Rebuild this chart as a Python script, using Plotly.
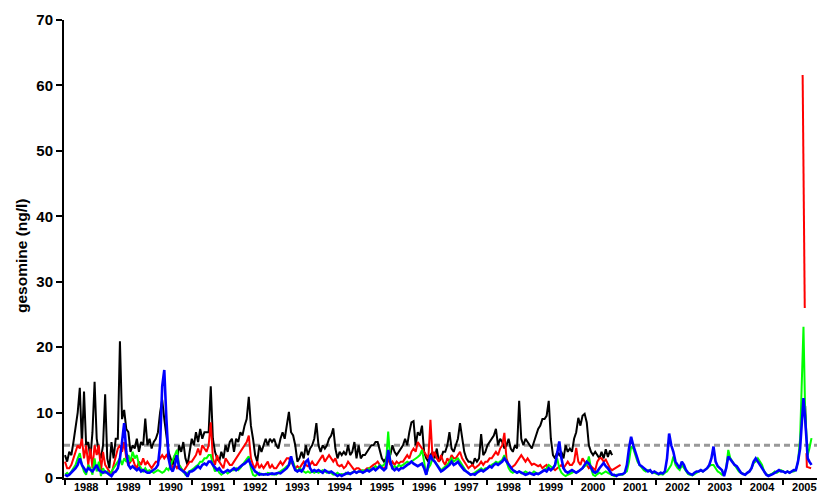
import numpy as np
import plotly.graph_objects as go

# ---------------- data ----------------
years = list(range(1988, 2006))
year_labels = [str(y) for y in years]
grid_start = 1988.0
grid_step = 0.05  # sampling interval (years)

black = [
    3.5, 2.5, 4, 3.5, 5.5, 8, 10, 13.8, 5, 13.2, 5, 5.5, 3, 7, 14.7, 6, 4, 3, 5, 12.8,      # 1988
    3, 1.5, 5.5, 3, 6, 6, 20.9, 9, 10.4, 7.5, 7, 4, 5, 4.5, 6, 4, 5.5, 5, 9.1, 5,          # 1989
    6, 4.5, 5.5, 6, 7, 10, 12, 9, 6, 4, 3, 2, 3.5, 2.5, 5, 4, 5.5, 3, 2, 4,                # 1990
    6, 5, 7, 5.5, 7.5, 6, 7, 7, 7, 14, 6, 4, 3, 2.5, 4, 3, 5, 4, 5.5, 6,                   # 1991
    4, 6, 5.5, 7, 6.5, 8, 9, 12.4, 8, 6, 3.5, 2.5, 5, 4, 5, 6, 5, 6, 5.5, 6,               # 1992
    5, 4.5, 6, 7, 6, 8, 10.1, 7, 6.5, 5, 2.5, 3, 4, 3, 5, 3.5, 4.5, 5, 6, 8.4,             # 1993
    5, 4, 5, 4.5, 5, 6, 6.5, 7.6, 4.5, 3, 4, 3.5, 4, 3.5, 5, 3.5, 4, 5.5, 3, 5,            # 1994
    3, 3.5, 3.5, 4, 4.5, 5, 5, 5.5, 5.5, 4, 3, 2.5, 3, 4, 3.5, 5, 4, 3.5, 4, 4.5,          # 1995
    5, 6, 5, 7, 8.5, 8.7, 5, 7, 6.5, 8, 4, 3, 2.5, 3.5, 4, 3, 4.5, 2.5, 3, 4,              # 1996
    4, 5, 7, 4.5, 4, 5, 6, 8.4, 6, 4, 3, 2.5, 2.5, 2, 3, 2.5, 3, 6.7, 3.5, 4,              # 1997
    5, 5.5, 6, 6.5, 7.5, 5, 6, 5.5, 4.5, 5, 6, 4.5, 4, 5, 4.5, 11.8, 6, 5, 6, 5.5,         # 1998
    5, 4.5, 5.5, 6.5, 7.5, 8, 9, 9, 9.5, 11.8, 6, 3.5, 3, 4, 3.5, 4, 3, 5, 4, 4.5,         # 1999
    4, 6, 7, 9.2, 8, 9.5, 9.8, 8.5, 5, 4, 3.5, 4, 3.5, 3, 4, 3, 4.4, 3.2, 4.2, 3.5,        # 2000
]
black_2005_t = [2005.52, 2005.54]
black_2005_v = [11, 7]

red = [
    2.5, 1.5, 1.5, 2, 3, 4, 5, 4.5, 6, 3, 5, 2, 4.5, 1.5, 5, 3.5, 5, 1, 4, 2,              # 1988
    1.5, 1, 0.5, 2, 3.5, 4.5, 5, 4, 5.5, 3, 2, 2.5, 3, 2, 1.5, 2.5, 2, 3, 2, 2.5,          # 1989
    2, 1.5, 2, 2.5, 2.5, 3, 3.5, 3, 3.5, 3, 2.5, 1.5, 2, 1.5, 2, 1.5, 1, 1.5, 2, 2.5,      # 1990
    2.5, 3, 3.5, 4.5, 3.5, 5, 4.5, 4, 5, 8.5, 3, 2, 3.5, 2.5, 2, 1.5, 3, 2.5, 2, 2,        # 1991
    2.5, 3, 3.5, 4, 4.5, 5, 5.5, 6.5, 3, 2, 1.5, 2.5, 1.5, 2, 1.5, 2, 2.5, 1.5, 2, 1.5,    # 1992
    1.5, 2, 2.5, 2, 2.5, 3, 3, 2.5, 2, 1.5, 1.8, 1.5, 2, 2.5, 2, 1.8, 2, 2.5, 2, 2,        # 1993
    2.5, 3, 3.5, 2.5, 3, 3.5, 3, 2.5, 3, 2, 1.8, 2, 1.5, 1.8, 2.5, 2, 1.5, 1.2, 1.5, 1.5,  # 1994
    1.2, 1, 1.2, 1.5, 1.5, 1.8, 2, 2.2, 2.5, 2, 1.5, 1.5, 1.8, 3, 2, 2.5, 2, 2.5, 2.2, 2.5,  # 1995
    2.5, 3, 3.5, 3, 4, 4.5, 4, 5.5, 5, 4.5, 4, 3.5, 3, 8.9, 3, 4, 3, 2.5, 3.5, 2.5,        # 1996
    2, 3, 2.5, 3.5, 3, 3, 3.5, 4, 3, 2.5, 2, 1.5, 1.8, 2, 1.5, 1.8, 2, 2.5, 2, 2.5,        # 1997
    2.5, 3, 3, 3.5, 4, 3.5, 4.5, 5, 6.9, 3, 2, 1.5, 1.8, 2, 2.5, 3, 3.5, 3, 2.5, 3,        # 1998
    2.5, 2, 2.2, 2, 1.8, 2, 1.5, 1.8, 2, 1.5, 1.2, 1.5, 1.2, 1.5, 1.8, 2, 1.5, 2, 2.5, 2,  # 1999
    2, 2.5, 4.6, 2.5, 2, 3, 2.5, 2, 1.5, 1.8, 1.5, 1.2, 2.5, 3, 3, 2.5, 2.8, 2, 1.5, 1.2,  # 2000
    1.4, 1.6, 1.8, 2,                                                                      # 2001
]
red_spike_t = [2005.46, 2005.51]
red_spike_v = [61.6, 26]
red_tail_t = [2005.55, 2005.56, 2005.66]
red_tail_v = [3.8, 1.7, 1.5]

green = [
    0.5, 0.8, 0.5, 1, 1.5, 2, 3, 3.8, 2, 1, 0.5, 2, 1.5, 0.5, 3, 1, 2.5, 0.3, 1.5, 0.8,    # 1988
    1, 0.5, 1, 1.5, 2, 2.5, 3, 2, 3, 2.5, 3.5, 2.5, 4, 3, 3.5, 2, 1.5, 1, 1.5, 1,          # 1989
    1.2, 1, 0.8, 1, 1.2, 1, 0.8, 1, 1.5, 1.2, 2, 2.5, 3.5, 4.3, 2, 1.5, 1, 0.5, 0.8, 1,    # 1990
    1.2, 1.5, 1.8, 2, 2.5, 2.5, 3, 3, 3.5, 3.5, 2, 1, 1.5, 0.8, 0.5, 0.8, 1, 0.7, 1, 1.2,  # 1991
    1.2, 1.5, 1.2, 1.5, 2, 2.5, 2.8, 3.3, 1.5, 0.5, 0.3, 0.5, 0.8, 0.5, 0.6, 0.5, 0.8, 0.7, 0.5, 0.6,  # 1992
    0.5, 0.8, 1, 1.2, 1.5, 1.8, 2, 2.5, 2.5, 1.5, 1, 1.5, 1.2, 1, 0.8, 1, 0.8, 1, 0.8, 1,  # 1993
    0.8, 1, 1.2, 1, 0.8, 1, 0.7, 0.5, 0.6, 0.8, 0.5, 0.6, 0.5, 0.8, 0.6, 0.7, 0.8, 1, 0.8, 1,  # 1994
    1, 1.2, 1, 1.2, 1.5, 1.2, 1.5, 1.8, 1.5, 2, 1.8, 2, 2.5, 7.1, 2.5, 1.5, 1.8, 1.5, 2, 1.8,  # 1995
    2, 2.2, 2.5, 2.3, 2.5, 2.8, 3, 3.2, 3.5, 4.3, 2.5, 0.5, 1.5, 2, 3, 2.5, 2, 1.5, 1.2, 1.5,  # 1996
    1.8, 2, 2.5, 3, 2.5, 2.8, 3, 2.5, 2, 1.5, 1, 0.8, 0.5, 0.6, 0.8, 1, 1.2, 1.5, 1.2, 1.5,  # 1997
    1.5, 1.8, 2, 2.2, 2.5, 2.3, 2.5, 2.8, 3.5, 2.5, 1.5, 1, 0.8, 1, 0.8, 1, 0.7, 0.8, 1, 0.8,  # 1998
    0.8, 0.7, 1, 0.8, 0.6, 0.8, 1, 1.2, 1.5, 2, 1.8, 1.5, 2, 3, 1.5, 0.8, 0.5, 0.3, 0.5, 0.6,  # 1999
    0.8, 1, 0.8, 1, 1.2, 1.5, 1.8, 2, 3.3, 1.5, 0.5, 0.3, 0.6, 0.8, 0.6, 0.8, 1, 0.8, 0.6, 0.5,  # 2000
    0.3, 0.5, 0.5, 0.6, 0.5, 0.8, 1, 2.5, 4.8, 4.5, 3.5, 2.5, 2, 1.5, 1.2, 1, 1.2, 1, 0.8, 0.8,  # 2001
    0.6, 0.5, 0.6, 0.5, 0.8, 1, 1.5, 2, 3.3, 2, 1.5, 1.2, 2, 1.5, 1, 0.6, 0.5, 0.4, 0.6, 0.8,  # 2002
    1, 1.2, 1, 1.2, 1.5, 1.8, 2, 2, 1.5, 1, 0.8, 0.5, 0.5, 1.5, 4.3, 3, 2.5, 2, 1.5, 1,    # 2003
    0.8, 0.6, 0.5, 0.8, 1, 1.5, 2.3, 2.5, 3, 2.5, 2, 1, 0.6, 0.4, 0.5, 0.7, 1, 0.8, 1, 1.2,  # 2004
    1, 0.8, 1, 0.8, 1, 1,                                                                  # 2005 (Jan-Apr)
]

blue = [
    0.5, 0.3, 0.5, 0.8, 1.2, 1.5, 2, 3, 2, 1.5, 1, 1.5, 1.2, 1, 1.5, 2, 1.2, 1, 0.8, 1,    # 1988
    0.8, 0.5, 0.3, 0.8, 1, 1.5, 3, 5.5, 8.4, 4, 2, 1.5, 1.8, 1.5, 1.2, 1.5, 1, 1.2, 1, 0.8,  # 1989
    0.8, 1, 1.2, 1.5, 2, 5, 14, 16.5, 9, 3, 1.5, 1, 2, 3.5, 1.5, 1.2, 1, 0.8, 0.2, 1,      # 1990
    1, 1.2, 1.5, 1.8, 1.5, 2, 2.2, 2, 2.5, 2.5, 2, 1.5, 1.2, 1.5, 1, 0.8, 1, 1.2, 1, 1.2,  # 1991
    1.5, 1.2, 1.5, 1.8, 2, 2.2, 2.5, 2.8, 2, 1.5, 1, 0.8, 0.5, 0.6, 0.5, 0.6, 0.5, 0.6, 0.7, 0.6,  # 1992
    0.7, 0.8, 0.7, 1, 1.2, 1.5, 2, 3.3, 2, 1.2, 1, 1.2, 1, 1.5, 2.5, 2.8, 1.5, 1, 1.2, 1,  # 1993
    1.2, 1, 0.8, 1.2, 1, 0.8, 1, 0.8, 0.5, 0.3, 0.5, 0.3, 0.5, 0.6, 0.8, 0.6, 0.8, 1, 0.8, 1,  # 1994
    1, 0.8, 1, 1.2, 1, 1.2, 1.5, 1.2, 1.5, 1.8, 1.5, 1.2, 1.5, 4.3, 2.5, 1.5, 1.2, 1.5, 1.2, 1.5,  # 1995
    1.5, 1.8, 2, 2.2, 2.5, 2.2, 2, 1.8, 2, 2.2, 1.5, 0.5, 2, 3.5, 2.8, 2.5, 2, 1.5, 1, 1.2,  # 1996
    1.5, 1.8, 2, 2.5, 2, 2.2, 2.5, 2, 1.5, 1.2, 1, 0.8, 0.5, 0.6, 0.5, 0.8, 1, 1.2, 1, 1.2,  # 1997
    1.5, 1.8, 1.6, 2, 2.2, 2, 2.3, 2.5, 3, 2.5, 2, 1.5, 1.2, 1, 0.8, 1, 0.8, 0.6, 0.5, 0.6,  # 1998
    0.8, 0.6, 0.5, 0.7, 0.6, 0.8, 1, 1.2, 1, 1.5, 1.2, 1.5, 2, 4, 5.6, 3, 1.5, 1, 0.8, 1,  # 1999
    1.2, 1, 0.8, 1, 1.2, 1.5, 2, 2.5, 2.2, 1.5, 1, 0.8, 1, 1.5, 2, 2.3, 1.8, 1.5, 1, 0.5,  # 2000
    0.5, 0.3, 0.5, 0.5, 0.6, 0.8, 2, 4.5, 6.3, 5, 4, 3, 2, 1.8, 1.5, 1.2, 1, 1.2, 0.8, 1,  # 2001
    0.8, 0.6, 0.8, 0.7, 1, 3, 6.8, 5, 4, 2.5, 2, 1.5, 2.5, 2, 1.2, 0.8, 0.6, 0.5, 0.8, 1,  # 2002
    1, 1.2, 1, 1.2, 1.5, 2, 3, 4.8, 2.5, 1.8, 1.5, 1.2, 0.3, 1.5, 3.3, 2.8, 2.5, 2, 1.8, 1.2,  # 2003
    0.8, 0.6, 0.5, 0.8, 1, 1.5, 2.5, 3, 2.5, 2, 1.5, 1, 0.5, 0.3, 0.4, 0.6, 0.8, 1, 1.2, 1,  # 2004
    1, 0.8, 1, 0.8, 1, 1.2,                                                                # 2005 (Jan-Apr)
]
tail_t = [2005.30, 2005.35, 2005.40, 2005.44, 2005.48, 2005.52, 2005.55, 2005.58, 2005.62, 2005.67]
green_tail = [1.2, 2.5, 6, 14, 23.1, 10, 5.8, 3.5, 4.5, 6.1]
blue_tail = [1.2, 2.5, 4.5, 9, 12.2, 9, 5, 3, 2.5, 2]

threshold = 5
y_title = "gesomine (ng/l)"

# ---------------- build ----------------
def grid(n):
    return list(np.round(grid_start + grid_step * np.arange(n), 4))

black_x = grid(len(black)) + [None] + black_2005_t
black_y = black + [None] + black_2005_v
red_x = grid(len(red)) + [None] + red_spike_t + [None] + red_tail_t
red_y = red + [None] + red_spike_v + [None] + red_tail_v
green_x = grid(len(green)) + tail_t
green_y = green + green_tail
blue_x = grid(len(blue)) + tail_t
blue_y = blue + blue_tail

fig = go.Figure()
for xs, ys, col, w in [
    (black_x, black_y, "#000000", 2),
    (red_x, red_y, "#ff0000", 2),
    (green_x, green_y, "#00ff00", 2),
    (blue_x, blue_y, "#0000ff", 2.6),
]:
    fig.add_trace(go.Scatter(x=xs, y=ys, mode="lines", line=dict(color=col, width=w),
                             connectgaps=False, hoverinfo="skip"))

fig.add_shape(type="line", xref="x domain", yref="y", x0=0, x1=1, y0=threshold, y1=threshold,
              line=dict(color="#999999", width=3, dash="6px,4px"), layer="below")

bold = dict(family="Liberation Sans, Arial, sans-serif", color="black", weight="bold")

W, H = 820, 493
ML, MR, MT, MB = 64, 3, 20, 15
plot_w = W - ML - MR
plot_h = H - MT - MB

fig.add_annotation(
    text=y_title, textangle=-90, showarrow=False,
    xref="paper", yref="paper",
    x=(21 - ML) / plot_w, y=(H - MB - 256) / plot_h,
    xanchor="center", yanchor="middle",
    font=dict(size=15.5, **bold),
)

fig.update_layout(
    width=W, height=H,
    margin=dict(l=ML, r=MR, t=MT, b=MB),
    paper_bgcolor="white", plot_bgcolor="white",
    showlegend=False,
    font=dict(family="Liberation Sans, Arial, sans-serif", color="black"),
    xaxis=dict(
        range=[1987.976, 2005.80],
        showgrid=False, zeroline=False,
        showline=True, linecolor="black", linewidth=2,
        tickmode="array",
        tickvals=[y + 0.5 for y in years],
        ticktext=year_labels,
        ticks="",
        ticklabelstandoff=-2,
        tickfont=dict(size=11, **bold),
        minor=dict(tickmode="array", tickvals=years, ticks="outside",
                   ticklen=5, tickwidth=2, tickcolor="black", showgrid=False),
        automargin=False,
    ),
    yaxis=dict(
        range=[0, 70],
        showgrid=False, zeroline=False,
        showline=True, linecolor="black", linewidth=2,
        tickmode="array", tickvals=list(range(0, 71, 10)),
        ticks="outside", ticklen=6, tickwidth=2, tickcolor="black",
        tickfont=dict(size=15, **bold),
        automargin=False,
    ),
)

fig.write_html(
    "out.html",
    config={"displayModeBar": False},
    post_script="document.body.style.margin='0px';document.body.style.overflow='hidden';",
)
